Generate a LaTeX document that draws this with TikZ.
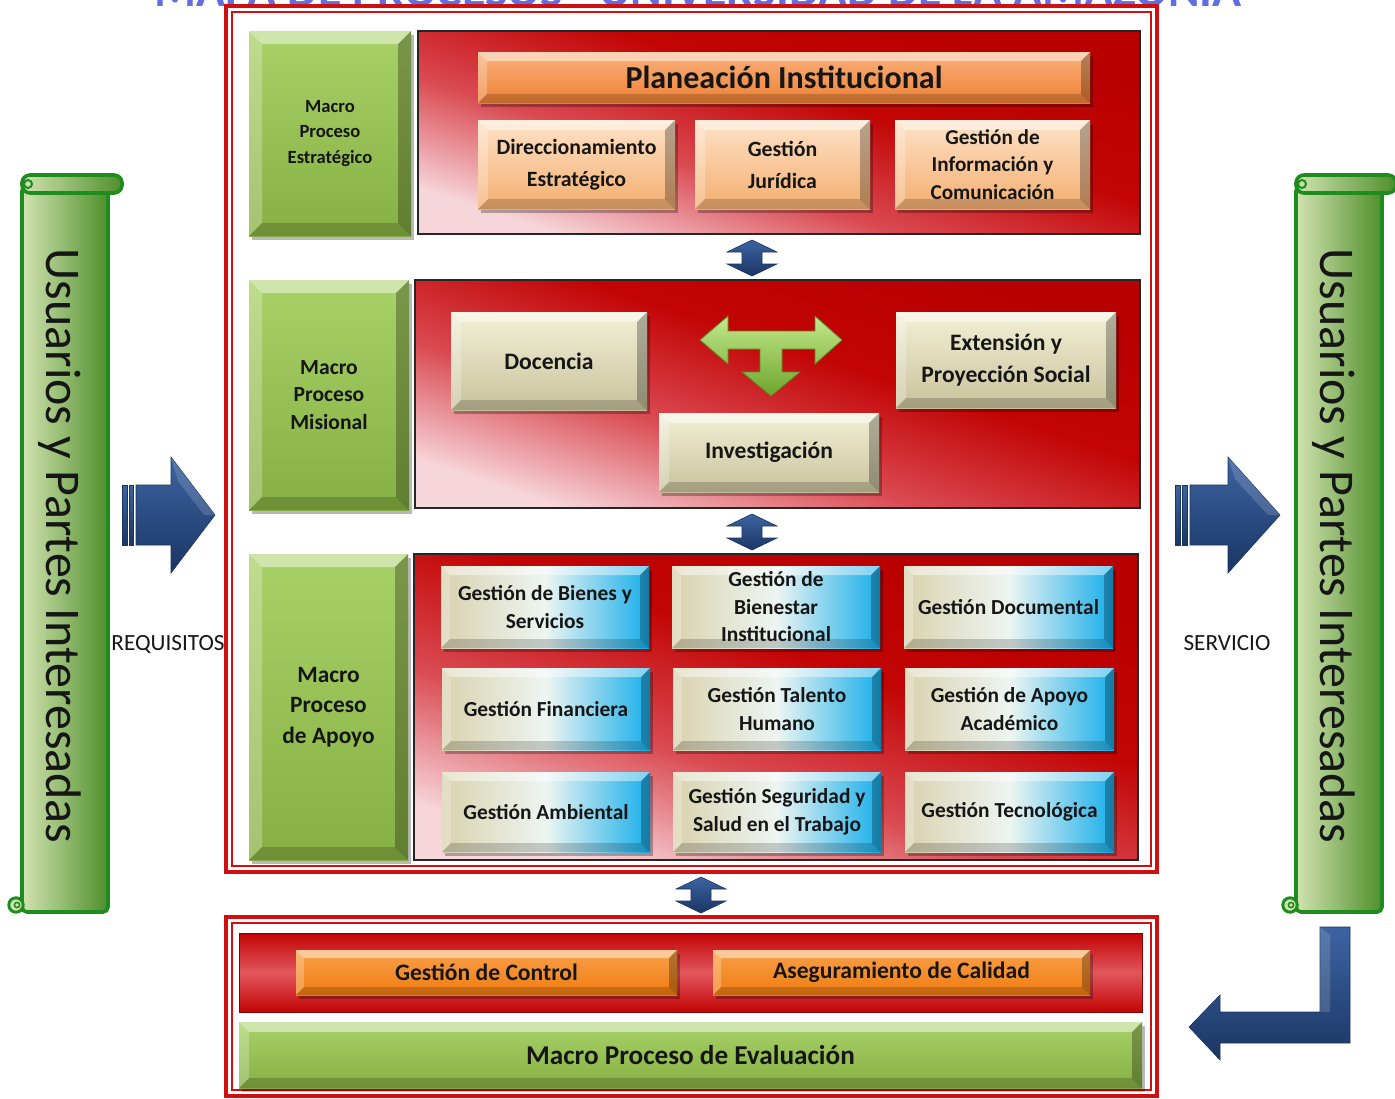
\documentclass[tikz,border=0pt]{standalone}
\usepackage{fontspec}
\setmainfont{Carlito}
\definecolor{txt}{HTML}{161616}
\definecolor{rp1}{HTML}{C20404}
\definecolor{rp2}{HTML}{DA4A52}
\definecolor{rp3}{HTML}{F6D6DA}
\definecolor{rp0}{HTML}{B80000}
\definecolor{frameR}{HTML}{D01010}
\definecolor{gTop}{HTML}{A8D168}
\definecolor{gBot}{HTML}{86B043}
\definecolor{oTop}{HTML}{F9B27C}
\definecolor{oBot}{HTML}{EE8035}
\definecolor{pTop}{HTML}{FDE2C6}
\definecolor{pBot}{HTML}{F4AE70}
\definecolor{kTop}{HTML}{F3F0D6}
\definecolor{kBot}{HTML}{C8C29C}
\definecolor{cL}{HTML}{D9D2AE}
\definecolor{cM}{HTML}{EDF5F2}
\definecolor{cR}{HTML}{16AEEA}
\definecolor{o2Top}{HTML}{F9A04A}
\definecolor{o2Bot}{HTML}{F07C10}
\definecolor{scrL}{HTML}{D2E3B0}
\definecolor{scrR}{HTML}{4F8F2C}
\definecolor{scrB}{HTML}{1E8C1E}
\definecolor{ba1}{HTML}{3D64A2}
\definecolor{ba2}{HTML}{1A3563}
\definecolor{gaTop}{HTML}{C4E88C}
\definecolor{gaBot}{HTML}{6DA52C}
\definecolor{gaLine}{HTML}{5A8A25}
\definecolor{titleblue}{HTML}{3A4AD8}
\pgfdeclareverticalshading{redsh}{100bp}{color(0bp)=(rp3); color(25bp)=(rp3); color(41bp)=(rp2); color(57bp)=(rp1); color(75bp)=(rp0); color(100bp)=(rp0)}
\newcommand\bevel[9]{%
  \fill[black,opacity=.28] (#2+3,#3+4) rectangle (#4+3,#5+4);
  \path[#6] (#2,#3) rectangle (#4,#5);
  \fill[white,opacity=.45] (#2,#3) -- (#4,#3) -- (#4-#8,#3+#8) -- (#2+#8,#3+#8) -- cycle;
  \fill[white,opacity=.25] (#2,#3) -- (#2+#8,#3+#8) -- (#2+#8,#5-#8) -- (#2,#5) -- cycle;
  \fill[black,opacity=.28] (#4,#3) -- (#4,#5) -- (#4-#8,#5-#8) -- (#4-#8,#3+#8) -- cycle;
  \fill[black,opacity=.18] (#2,#5) -- (#4,#5) -- (#4-#8,#5-#8) -- (#2+#8,#5-#8) -- cycle;
  \node[boxtext,#9] (#1) at ({(#2+#4)/2},{(#3+#5)/2}) {#7};
}
\begin{document}
\begin{tikzpicture}[x=0.5pt,y=-0.5pt,
  boxtext/.style={text=txt,align=center,inner sep=0pt},
  fPlan/.style={font=\bfseries\fontsize{16}{19}\selectfont},
  fStrat/.style={font=\bfseries\fontsize{10.9}{16}\selectfont},
  fStratC/.style={font=\bfseries\fontsize{10.6}{13.75}\selectfont},
  fGa/.style={font=\bfseries\fontsize{9.3}{12.75}\selectfont},
  fGb/.style={font=\bfseries\fontsize{10.8}{13.75}\selectfont},
  fGc/.style={font=\bfseries\fontsize{11.7}{15.25}\selectfont},
  fMis/.style={font=\bfseries\fontsize{11.8}{16}\selectfont},
  fGrid/.style={font=\bfseries\fontsize{10.7}{13.75}\selectfont},
  fEval/.style={font=\bfseries\fontsize{11.8}{14}\selectfont},
  fEvalB/.style={font=\bfseries\fontsize{13.6}{16}\selectfont},
  gface/.style={top color=gTop,bottom color=gBot},
  oface/.style={top color=oTop,bottom color=oBot},
  pface/.style={top color=pTop,bottom color=pBot},
  kface/.style={top color=kTop,bottom color=kBot},
  cface/.style={left color=cL,right color=cR,middle color=cM},
  o2face/.style={top color=o2Top,bottom color=o2Bot},
  redpanel/.style={draw=black!85,line width=0.6pt,shading=redsh,shading angle=-18},
  scrollfill/.style={left color=scrL,right color=scrR},
  scrolldraw/.style={draw=scrB,line width=1.8pt},
  bluearr/.style={top color=ba1,bottom color=ba2,draw=ba2,line width=0.3pt},
  greenarr/.style={top color=gaTop,bottom color=gaBot,draw=gaLine,line width=0.4pt}
]
\useasboundingbox (0,0) rectangle (1395,1098);
\clip (0,0) rectangle (1395,1098);
\fill[white] (0,0) rectangle (1395,1098);

% title (cut off at the top, as in the reference)
\node[font=\bfseries\fontsize{24}{26}\selectfont,text=titleblue!80,anchor=base] (title) at (698,6) {MAPA DE PROCESOS - UNIVERSIDAD DE LA AMAZONIA};

% main frames
\draw[frameR,line width=2pt] (226,6) rectangle (1157,872);
\draw[frameR,line width=0.7pt] (232,12) rectangle (1151,866);
\draw[frameR,line width=2pt] (226,917) rectangle (1157,1096);
\draw[frameR,line width=0.7pt] (232,923) rectangle (1151,1090);

% red panels
\path[redpanel] (418,31) rectangle (1140,234);
\path[redpanel] (415,280) rectangle (1140,508);
\path[redpanel] (414,554) rectangle (1138,860);
\path[draw=red!50!black,line width=0.4pt,top color=rp1,bottom color=rp1,middle color={rgb,255:red,226;green,86;blue,94}] (239,933) rectangle (1142,1012);

% strategic
\bevel{gE}{249}{31}{411}{236}{gface}{Macro\\Proceso\\Estratégico}{13}{fGa}
\bevel{plan}{478}{52}{1090}{103}{oface}{Planeación Institucional}{9}{fPlan}
\bevel{dir}{478}{120}{675}{209}{pface}{Direccionamiento\\Estratégico}{10}{fStrat}
\bevel{jur}{695}{120}{870}{209}{pface}{Gestión\\Jurídica}{10}{fStrat}
\bevel{inf}{895}{120}{1090}{209}{pface}{Gestión de\\Información y\\Comunicación}{10}{fStratC}

% misional
\bevel{gM}{249}{280}{409}{510}{gface}{Macro\\Proceso\\Misional}{13}{fGb}
\bevel{doc}{451}{312}{647}{410}{kface}{Docencia}{10}{fMis}
\bevel{ext}{896}{312}{1116}{408}{kface}{Extensión y\\Proyección Social}{10}{fMis}
\bevel{inv}{659}{413}{879}{492}{kface}{Investigación}{10}{fMis}
\path[greenarr] (700,340) -- (728,316) -- (728,331) -- (815,331) -- (815,316) -- (842,340) -- (815,364) -- (815,349) -- (782,349) -- (782,372) -- (800,372) -- (771,396) -- (742,372) -- (760,372) -- (760,349) -- (728,349) -- (728,364) -- cycle;

% apoyo
\bevel{gA}{249}{554}{408}{860}{gface}{Macro\\Proceso\\de Apoyo}{13}{fGc}
\bevel{bie}{441}{566}{649}{648}{cface}{Gestión de Bienes y\\Servicios}{9}{fGrid}
\bevel{bien}{672}{566}{880}{648}{cface}{Gestión de\\Bienestar\\Institucional}{9}{fGrid}
\bevel{docu}{904}{566}{1113}{648}{cface}{Gestión Documental}{9}{fGrid}
\bevel{fin}{442}{668}{650}{750}{cface}{Gestión Financiera}{9}{fGrid}
\bevel{tal}{673}{668}{881}{750}{cface}{Gestión Talento\\Humano}{9}{fGrid}
\bevel{apo}{905}{668}{1114}{750}{cface}{Gestión de Apoyo\\Académico}{9}{fGrid}
\bevel{amb}{442}{772}{650}{852}{cface}{Gestión Ambiental}{9}{fGrid}
\bevel{seg}{673}{772}{881}{852}{cface}{Gestión Seguridad y\\Salud en el Trabajo}{9}{fGrid}
\bevel{tec}{905}{772}{1114}{852}{cface}{Gestión Tecnológica}{9}{fGrid}

% evaluation
\bevel{ctl}{296}{950}{677}{995}{o2face}{Gestión de Control}{8}{fEval}
\bevel{ase}{713}{950}{1090}{995}{o2face}{Aseguramiento de Calidad}{8}{fEval}
\bevel{gEv}{239}{1022}{1142}{1088}{gface}{Macro Proceso de Evaluación}{10}{fEvalB}

% small double arrows between the macro processes
\foreach \cx/\ya in {752/240,752/514,701/877}{
  \path[bluearr] (\cx,\ya) -- (\cx+25,\ya+12) -- (\cx+10,\ya+12) -- (\cx+10,\ya+24) -- (\cx+25,\ya+24) -- (\cx,\ya+36) -- (\cx-25,\ya+24) -- (\cx-10,\ya+24) -- (\cx-10,\ya+12) -- (\cx-25,\ya+12) -- cycle;
}

% scrolls
\foreach \dx in {0,1274}{
  \begin{scope}[shift={(\dx,0)}]
    \path[scrollfill,scrolldraw,rounded corners=2.5pt] (22,186) rectangle (108,912);
    \path[scrollfill,scrolldraw,rounded corners=4pt] (22,175) rectangle (122,193);
    \draw[scrB,line width=1pt] (28,184) circle (2pt);
    \path[fill=scrL,draw=scrB,line width=1.5pt] (16,905) circle (3.6pt);
    \draw[scrB,line width=0.8pt] (17,905) circle (1.3pt);
  \end{scope}
}
\node[rotate=-90,anchor=base,font=\fontsize{25}{30}\selectfont,text=txt,inner sep=0pt] (usrL) at (47,546) {Usuarios y Partes Interesadas};
\node[rotate=-90,anchor=base,font=\fontsize{25}{30}\selectfont,text=txt,inner sep=0pt] (usrR) at (1320,546) {Usuarios y Partes Interesadas};

% big blue arrows
\path[bluearr] (122,485) rectangle (127,545);
\path[bluearr] (129,485) rectangle (133,545);
\path[bluearr] (136,485) -- (171,485) -- (171,457) -- (215,515) -- (171,573) -- (171,545) -- (136,545) -- cycle;
\fill[white,opacity=.15] (171,457) -- (215,515) -- (204,515) -- (178,481) -- cycle;
\path[bluearr] (1175,485) rectangle (1180,545);
\path[bluearr] (1182,485) rectangle (1187,545);
\path[bluearr] (1190,485) -- (1228,485) -- (1228,457) -- (1280,515) -- (1228,573) -- (1228,545) -- (1190,545) -- cycle;
\fill[white,opacity=.15] (1228,457) -- (1280,515) -- (1268,515) -- (1235,479) -- cycle;
\path[bluearr] (1320,927) -- (1350,927) -- (1350,1043) -- (1220,1043) -- (1220,1060) -- (1189,1027) -- (1220,995) -- (1220,1012) -- (1320,1012) -- cycle;
\fill[white,opacity=.15] (1320,927) -- (1330,935) -- (1330,1012) -- (1320,1012) -- cycle;

\node[anchor=base,font=\fontsize{11.6}{14}\selectfont,text=txt,inner sep=0pt] (req) at (168,650) {REQUISITOS};
\node[anchor=base,font=\fontsize{11.6}{14}\selectfont,text=txt,inner sep=0pt] (ser) at (1227,650) {SERVICIO};
\end{tikzpicture}
\end{document}
